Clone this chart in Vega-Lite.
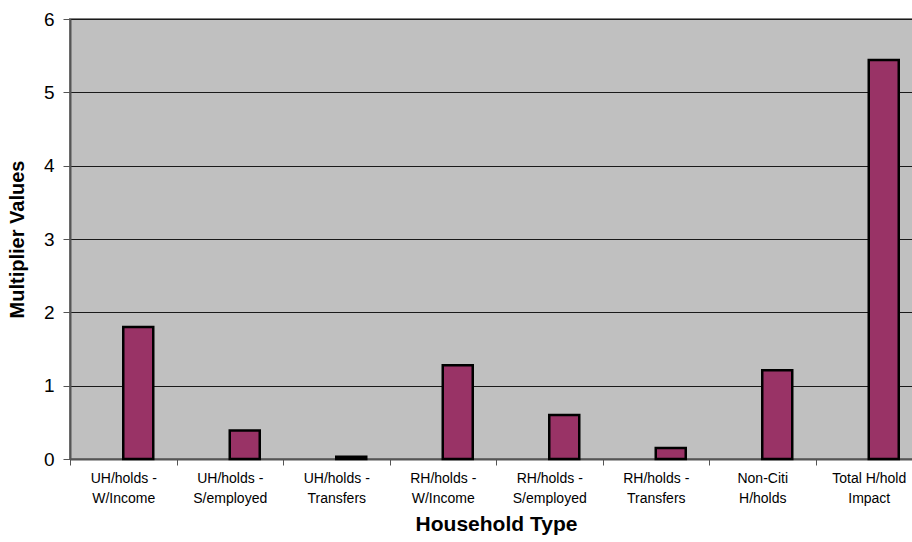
{
  "$schema": "https://vega.github.io/schema/vega-lite/v6.json",
  "autosize": {"type": "none"},
  "padding": {"left": 70, "top": 19, "right": 0, "bottom": 83},
  "width": 852,
  "height": 440,
  "background": "#ffffff",
  "config": {
    "font": "Liberation Sans",
    "view": {"fill": "#C0C0C0", "stroke": "#808080", "strokeWidth": 2}
  },
  "data": {
    "values": [
      {"household": "UH/holds -|W/Income", "series": "Multiplier", "value": 1.80},
      {"household": "UH/holds -|S/employed", "series": "Multiplier", "value": 0.39},
      {"household": "UH/holds -|Transfers", "series": "Multiplier", "value": 0.03},
      {"household": "RH/holds -|W/Income", "series": "Multiplier", "value": 1.28},
      {"household": "RH/holds -|S/employed", "series": "Multiplier", "value": 0.60},
      {"household": "RH/holds -|Transfers", "series": "Multiplier", "value": 0.15},
      {"household": "Non-Citi|H/holds", "series": "Multiplier", "value": 1.21},
      {"household": "Total H/hold|Impact", "series": "Multiplier", "value": 5.44}
    ]
  },
  "mark": {"type": "bar", "fill": "#993366", "stroke": "#000000", "strokeWidth": 2.5},
  "encoding": {
    "x": {
      "field": "household",
      "type": "nominal",
      "sort": null,
      "scale": {"paddingInner": 0, "paddingOuter": 0},
      "axis": {
        "title": "Household Type",
        "titleFont": "Liberation Sans",
        "titleFontSize": 21,
        "titleFontWeight": "bold",
        "titleColor": "#000000",
        "titlePadding": 8,
        "labelAngle": 0,
        "labelExpr": "split(datum.label, '|')",
        "labelFontSize": 14,
        "labelLineHeight": 20,
        "labelColor": "#000000",
        "labelPadding": 6,
        "tickBand": "extent",
        "tickSize": 6,
        "tickColor": "#555555",
        "domainColor": "#555555",
        "domainWidth": 2,
        "grid": false
      }
    },
    "xOffset": {
      "field": "series",
      "type": "nominal",
      "scale": {"domain": ["", "Multiplier"], "paddingInner": 0, "paddingOuter": 0.775}
    },
    "y": {
      "field": "value",
      "type": "quantitative",
      "scale": {"domain": [0, 6], "nice": false},
      "axis": {
        "title": "Multiplier Values",
        "titleFont": "Liberation Sans",
        "titleFontSize": 20,
        "titleFontWeight": "bold",
        "titleColor": "#000000",
        "titlePadding": 16,
        "values": [0, 1, 2, 3, 4, 5, 6],
        "labelFontSize": 19,
        "labelColor": "#000000",
        "labelPadding": 9,
        "tickSize": 7,
        "tickColor": "#555555",
        "domainColor": "#555555",
        "domainWidth": 2,
        "grid": true,
        "gridColor": "#1a1a1a",
        "gridWidth": 1
      }
    }
  }
}
